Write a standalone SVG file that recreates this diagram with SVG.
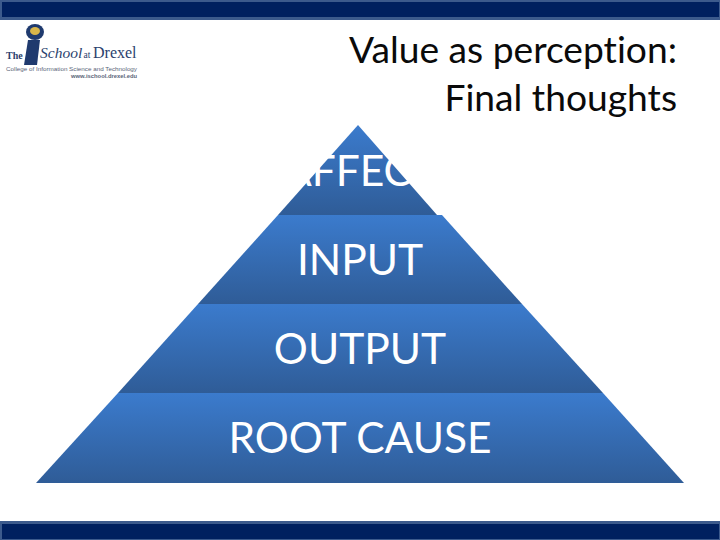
<svg xmlns="http://www.w3.org/2000/svg" width="720" height="540" viewBox="0 0 720 540">
<style>
.t{font-family:"Lato","Open Sans",sans-serif;fill:#0a0a0a;font-size:37.2px;text-anchor:end;font-variant-ligatures:none}
.p{font-family:"Lato","Open Sans",sans-serif;fill:#fff;font-size:42.5px;text-anchor:middle}
.bo{fill:#3c5a8c}.bi{fill:#00205f}
.l{font-family:"Liberation Serif",serif;fill:#2b3f6e}
.s{font-family:"Liberation Sans",sans-serif;fill:#5a6478;font-size:6px}
</style>
<defs>
<linearGradient id="g" x1="0" y1="0" x2="0" y2="1"><stop offset="0" stop-color="#3b7bcd"/><stop offset="1" stop-color="#2f5c97"/></linearGradient>
</defs>
<rect width="720" height="540" fill="#fff"/>
<g id="top-bar"><rect width="720" height="20" class="bo"/><rect x="2" y="2" width="717" height="15" class="bi"/></g>
<g id="bottom-bar"><rect y="521" width="720" height="19" class="bo"/><rect x="2" y="524" width="717" height="15" class="bi"/></g>
<g id="logo">
<ellipse cx="35" cy="32" rx="9" ry="8" fill="#1f3a6e"/>
<ellipse cx="35" cy="31" rx="5" ry="4" fill="#d9b64a"/>
<path d="M28 40 L40 40 L37 65 L24 65 Z" fill="#1f3a6e"/>
<text x="6" y="59" class="l" font-size="10" font-weight="bold">The</text>
<text x="40" y="58" class="l" font-size="15.5" font-style="italic">School</text>
<text x="83.500" y="58" class="l" font-size="9.500">at</text>
<text x="93" y="58" class="l" font-size="16">Drexel</text>
<text x="6" y="71" class="s" textLength="131" lengthAdjust="spacingAndGlyphs">College of Information Science and Technology</text>
<text x="71" y="78" class="s" font-weight="bold" textLength="66" lengthAdjust="spacingAndGlyphs">www.ischool.drexel.edu</text>
</g>
<g id="title">
<text x="677" y="63" class="t">Value as perception:</text>
<text x="677" y="111" class="t">Final thoughts</text>
</g>
<g id="root-cause"><polygon points="118,393 603,393 684,483 36,483" fill="url(#g)"/><text x="360" y="453" class="p">ROOT CAUSE</text></g>
<g id="output"><polygon points="198,304 522,304 603,393 118,393" fill="url(#g)"/><text x="360" y="364" class="p">OUTPUT</text></g>
<g id="input"><polygon points="278,215 442,215 522,304 198,304" fill="url(#g)"/><text x="360" y="275" class="p">INPUT</text></g>
<g id="affect"><polygon points="358,125 437,215 278,215" fill="url(#g)"/><text x="360" y="186" class="p">AFFECT</text></g>
<g id="connectors"/>
</svg>
